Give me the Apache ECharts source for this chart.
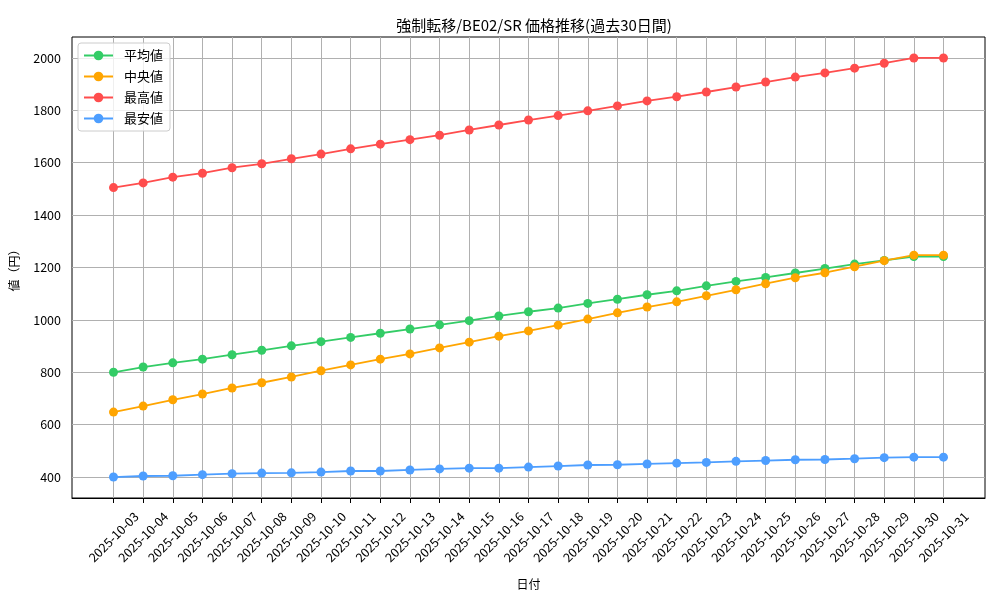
<!DOCTYPE html>
<html>
	<head>
		<meta charset="utf-8" />
		<title>価格推移</title>
		<script src="https://cdn.jsdelivr.net/npm/echarts@6.0.0/dist/echarts.min.js"></script>
		<style>
			body { margin: 0; background: #fff; }
		</style>
	</head>
	<body>
		<div id="chart" style="width:1000px;height:600px;"></div>
	</body>
	<script type="text/javascript">

	// 日付
	var dates = ['2025-10-03', '2025-10-04', '2025-10-05', '2025-10-06', '2025-10-07', '2025-10-08',
		'2025-10-09', '2025-10-10', '2025-10-11', '2025-10-12', '2025-10-13', '2025-10-14',
		'2025-10-15', '2025-10-16', '2025-10-17', '2025-10-18', '2025-10-19', '2025-10-20',
		'2025-10-21', '2025-10-22', '2025-10-23', '2025-10-24', '2025-10-25', '2025-10-26',
		'2025-10-27', '2025-10-28', '2025-10-29', '2025-10-30', '2025-10-31'];

	var avgValues = [800, 820, 836, 850, 867, 884, 901, 917, 933, 949, 965, 981, 997, 1015, 1031,
		1045, 1063, 1079, 1096, 1111, 1130, 1147, 1162, 1179, 1196, 1213, 1227, 1242, 1242];
	var medianValues = [648, 671, 695, 717, 740, 760, 782, 806, 828, 850, 870, 893, 915, 938, 958,
		980, 1003, 1027, 1049, 1069, 1092, 1115, 1138, 1161, 1180, 1203, 1226, 1247, 1247];
	var maxValues = [1505, 1523, 1545, 1560, 1581, 1596, 1615, 1633, 1653, 1671, 1688, 1705, 1725, 1744, 1763,
		1780, 1798, 1817, 1836, 1852, 1870, 1889, 1908, 1927, 1943, 1961, 1980, 2000, 2000];
	var minValues = [400, 404, 405, 409, 413, 415, 416, 419, 423, 423, 427, 431, 434, 434, 438,
		442, 446, 447, 450, 453, 456, 460, 463, 466, 467, 470, 474, 476, 476];

	var yTicks = [400, 600, 800, 1000, 1200, 1400, 1600, 1800, 2000];

	var font = 'Noto Sans CJK JP';

	function toPairs(arr) {
		return arr.map(function (v, i) { return [i, v]; });
	}
	var xTicks = dates.map(function (d, i) { return i; });

	// 補助線（グリッド）
	var gridLines = yTicks.map(function (v) { return {yAxis: v}; })
		.concat(xTicks.map(function (i) { return {xAxis: i}; }));

	function lineSeries(name, color, values) {
		return {
			name: name,
			type: 'line',
			z: 3,
			data: toPairs(values),
			symbol: 'circle',
			symbolSize: 9,
			itemStyle: {color: color},
			lineStyle: {color: color, width: 1.8},
			emphasis: {disabled: true}
		};
	}

	var myChart = echarts.init(document.getElementById('chart'));
	var option = {
		animation: false,
		backgroundColor: '#fff',
		title: {
			text: '強制転移/BE02/SR 価格推移(過去30日間)',
			left: 529,
			textAlign: 'center',
			top: 13,
			textStyle: {fontFamily: font, fontSize: 15, fontWeight: 'normal', color: '#000'}
		},
		legend: {
			orient: 'vertical',
			left: 78,
			top: 43,
			padding: [6, 7, 6, 5],
			itemGap: 8,
			itemWidth: 29,
			itemHeight: 12,
			backgroundColor: 'rgba(255,255,255,0.8)',
			borderColor: '#cccccc',
			borderWidth: 1,
			borderRadius: 3,
			textStyle: {fontFamily: font, fontSize: 13, color: '#000', padding: [0, 0, 0, 6]},
			data: ['平均値', '中央値', '最高値', '最安値']
		},
		grid: {
			left: 72,
			right: 15,
			top: 37,
			bottom: 102,
			show: true,
			borderColor: '#000',
			borderWidth: 1,
			containLabel: false,
			outerBoundsMode: 'none'
		},
		xAxis: {
			type: 'value',
			min: -1.4,
			max: 29.4,
			name: '日付',
			nameLocation: 'middle',
			nameGap: 80,
			nameTextStyle: {fontFamily: font, fontSize: 12, color: '#000'},
			axisLine: {show: true, lineStyle: {color: '#000'}},
			axisTick: {show: true, length: 5, lineStyle: {color: '#000'}, customValues: xTicks},
			axisLabel: {
				customValues: xTicks,
				rotate: 45,
				align: 'center',
				verticalAlign: 'middle',
				margin: 39,
				fontFamily: font,
				fontSize: 12.5,
				color: '#000',
				formatter: function (v) { return dates[v]; }
			},
			splitLine: {show: false}
		},
		yAxis: {
			type: 'value',
			min: 320,
			max: 2080,
			name: '値（円）',
			nameLocation: 'middle',
			nameGap: 52,
			nameTextStyle: {fontFamily: font, fontSize: 12, color: '#000'},
			axisLine: {show: true, lineStyle: {color: '#000'}},
			axisTick: {show: true, length: 5, lineStyle: {color: '#000'}, customValues: yTicks},
			axisLabel: {
				customValues: yTicks,
				margin: 11,
				fontFamily: font,
				fontSize: 12.5,
				color: '#000',
				formatter: function (v) { return String(v); }
			},
			splitLine: {show: false}
		},
		series: [
			{
				name: 'grid',
				type: 'line',
				z: 1,
				silent: true,
				data: [],
				markLine: {
					z: 1,
					silent: true,
					symbol: 'none',
					animation: false,
					label: {show: false},
					lineStyle: {color: '#b0b0b0', width: 1, type: 'solid'},
					emphasis: {disabled: true},
					data: gridLines
				}
			},
			lineSeries('平均値', '#33cc66', avgValues),
			lineSeries('中央値', '#ffa500', medianValues),
			lineSeries('最高値', '#ff4d4d', maxValues),
			lineSeries('最安値', '#4d9eff', minValues)
		]
	};
	myChart.setOption(option);
	</script>
</html>
